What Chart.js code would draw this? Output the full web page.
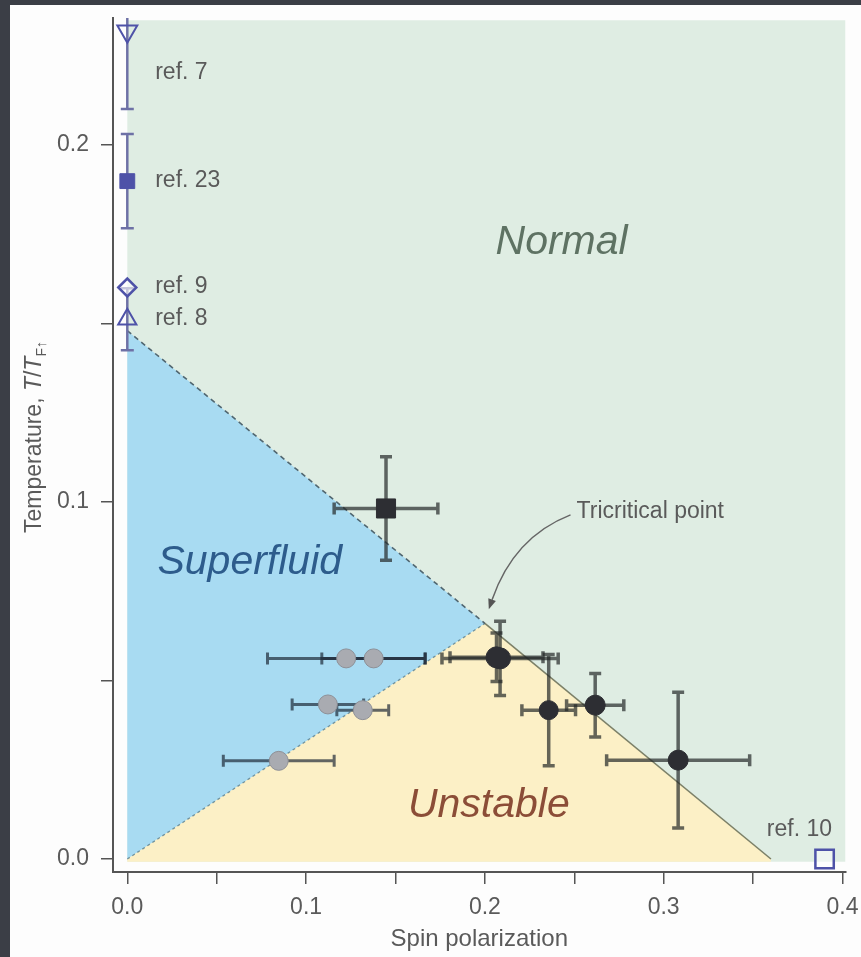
<!DOCTYPE html>
<html>
<head>
<meta charset="utf-8">
<title>Spin polarization phase diagram</title>
<script src="https://cdn.jsdelivr.net/npm/chart.js@4.4.1/dist/chart.umd.min.js"></script>
<style>
  html, body { margin: 0; padding: 0; background: #3b3e46; }
  canvas { display: block; }
</style>
</head>
<body>
<canvas id="phaseChart" width="861" height="957"></canvas>
<script>
// ---- data -------------------------------------------------------------
// earlier measurements (refs 7, 23, 9, 8 on the temperature axis, ref. 10 at T = 0)
const refLabels = ['ref. 7', 'ref. 23', 'ref. 9', 'ref. 8', 'ref. 10'];
const refP = [0, 0, 0, 0, 0.39];
const refT = [0.2319, 0.1899, 0.1601, 0.1512, 0];
const refTErr = [0.0218, 0.0132, 0, 0.0087, 0];

// superfluid points (grey)
const sfP = [0.1224, 0.1378, 0.1122, 0.1317, 0.0847];
const sfT = [0.0562, 0.0562, 0.0433, 0.0417, 0.0275];
const sfPErr = [0.044, 0.029, 0.020, 0.0145, 0.031];

// normal points (black, first one is the square)
const nP = [0.1447, 0.2085, 0.2065, 0.2357, 0.2617, 0.3081];
const nT = [0.0982, 0.0562, 0.0565, 0.0417, 0.0431, 0.0277];
const nPErr = [0.029, 0.0325, 0.026, 0.015, 0.016, 0.040];
const nTErr = [0.0145, 0.0104, 0.0068, 0.0156, 0.0089, 0.019];

// phase regions
const normalRegionP = [0, 0, 0.4017, 0.4017];
const normalRegionT = [-0.0008, 0.235, 0.235, -0.0008];
const superRegionP = [0, 0.2, 0];
const superRegionT = [0.148, 0.066, 0];
const unstableRegionP = [0, 0.2, 0.36, 0.36, 0];
const unstableRegionT = [0, 0.066, 0, -0.0008, -0.0008];

// phase boundaries meeting at the tricritical point
const sfNormalP = [0, 0.2];
const sfNormalT = [0.148, 0.066];
const sfUnstableP = [0, 0.2];
const sfUnstableT = [0, 0.066];
const unstableNormalP = [0.2, 0.36];
const unstableNormalT = [0.066, 0];

// axes
const xTickValues = [0, 0.05, 0.1, 0.15, 0.2, 0.25, 0.3, 0.35, 0.4];
const xTickLabels = ['0.0', '', '0.1', '', '0.2', '', '0.3', '', '0.4'];
const yTickValues = [0, 0.05, 0.1, 0.15, 0.2];
const yTickLabels = ['0.0', '', '0.1', '', '0.2'];

// ---- helpers ----------------------------------------------------------
const FONT = "'Liberation Sans', Arial, Helvetica, sans-serif";
const GREY = '#5a5a5a';

function toPoints(xs, ys) {
  return xs.map((x, i) => ({ x: x, y: ys[i] }));
}

function region(xs, ys, color, order) {
  return {
    type: 'line',
    data: toPoints(xs, ys),
    backgroundColor: color,
    borderColor: 'rgba(0,0,0,0)',
    borderWidth: 0,
    pointRadius: 0,
    fill: 'shape',
    tension: 0,
    order: order
  };
}

function boundary(xs, ys, color, width, dash) {
  return {
    type: 'line',
    data: toPoints(xs, ys),
    borderColor: color,
    borderWidth: width,
    borderDash: dash,
    pointRadius: 0,
    fill: false,
    tension: 0,
    order: 20
  };
}

// white page behind the plot
const panelPlugin = {
  id: 'panel',
  beforeDraw(chart) {
    const ctx = chart.ctx;
    ctx.save();
    ctx.fillStyle = '#3b3e46';
    ctx.fillRect(0, 0, chart.width, chart.height);
    ctx.fillStyle = '#fdfdfd';
    ctx.fillRect(10, 5, chart.width - 10, chart.height - 5);
    ctx.restore();
  }
};

// error bars are drawn just before the markers of their dataset
const errorBarPlugin = {
  id: 'errorBars',
  beforeDatasetDraw(chart, args) {
    const ds = chart.data.datasets[args.index];
    if (!ds.errorBars) return;
    const eb = ds.errorBars;
    const xs = chart.scales.x, ys = chart.scales.y;
    const area = chart.chartArea;
    const ctx = chart.ctx;
    ctx.save();
    ctx.beginPath();
    ctx.rect(area.left, area.top, area.right - area.left, area.bottom - area.top);
    ctx.clip();
    ctx.strokeStyle = eb.color;
    ctx.lineWidth = eb.width;
    const h = eb.cap / 2;
    ds.data.forEach((pt, i) => {
      const px = xs.getPixelForValue(pt.x);
      const py = ys.getPixelForValue(pt.y);
      const ex = eb.xErr ? eb.xErr[i] : 0;
      const ey = eb.yErr ? eb.yErr[i] : 0;
      ctx.beginPath();
      if (ex) {
        const l = xs.getPixelForValue(pt.x - ex);
        const r = xs.getPixelForValue(pt.x + ex);
        ctx.moveTo(l, py); ctx.lineTo(r, py);
        ctx.moveTo(l, py - h); ctx.lineTo(l, py + h);
        ctx.moveTo(r, py - h); ctx.lineTo(r, py + h);
      }
      if (ey) {
        const t = ys.getPixelForValue(pt.y + ey);
        const b = ys.getPixelForValue(pt.y - ey);
        ctx.moveTo(px, t); ctx.lineTo(px, b);
        ctx.moveTo(px - h, t); ctx.lineTo(px + h, t);
        ctx.moveTo(px - h, b); ctx.lineTo(px + h, b);
      }
      ctx.stroke();
    });
    ctx.restore();
  }
};

// region names, reference labels and the tricritical point callout
const notes = [
  { text: 'Normal', p: 0.2429, t: 0.1728, font: `italic 41px ${FONT}`, color: '#5e7263', align: 'center' },
  { text: 'Superfluid', p: 0.0685, t: 0.0829, font: `italic 41px ${FONT}`, color: '#2d5c8c', align: 'center' },
  { text: 'Unstable', p: 0.2022, t: 0.0151, font: `italic 41px ${FONT}`, color: '#8b4d37', align: 'center' },
  { text: 'Tricritical point', p: 0.2513, t: 0.0972, font: `23px ${FONT}`, color: GREY, align: 'left' },
  { text: refLabels[0], p: 0.0156, t: 0.2204, font: `23px ${FONT}`, color: GREY, align: 'left' },
  { text: refLabels[1], p: 0.0156, t: 0.1899, font: `23px ${FONT}`, color: GREY, align: 'left' },
  { text: refLabels[2], p: 0.0156, t: 0.1602, font: `23px ${FONT}`, color: GREY, align: 'left' },
  { text: refLabels[3], p: 0.0156, t: 0.1515, font: `23px ${FONT}`, color: GREY, align: 'left' },
  { text: refLabels[4], p: 0.3577, t: 0.0081, font: `23px ${FONT}`, color: GREY, align: 'left' }
];
const arrow = { from: [0.2479, 0.0964], ctrl: [0.2162, 0.0902], to: [0.2022, 0.0700] };

const notesPlugin = {
  id: 'notes',
  afterDatasetsDraw(chart) {
    const ctx = chart.ctx;
    const xs = chart.scales.x, ys = chart.scales.y;
    ctx.save();
    ctx.textBaseline = 'middle';
    notes.forEach(n => {
      ctx.font = n.font;
      ctx.fillStyle = n.color;
      ctx.textAlign = n.align;
      ctx.fillText(n.text, xs.getPixelForValue(n.p), ys.getPixelForValue(n.t));
    });

    // curved arrow to the tricritical point
    const fx = xs.getPixelForValue(arrow.from[0]), fy = ys.getPixelForValue(arrow.from[1]);
    const cx = xs.getPixelForValue(arrow.ctrl[0]), cy = ys.getPixelForValue(arrow.ctrl[1]);
    const tx = xs.getPixelForValue(arrow.to[0]), ty = ys.getPixelForValue(arrow.to[1]);
    const ang = Math.atan2(ty - cy, tx - cx);
    const len = 10, half = 4;
    const bx = tx - Math.cos(ang) * len, by = ty - Math.sin(ang) * len;
    ctx.strokeStyle = '#666';
    ctx.lineWidth = 1.5;
    ctx.beginPath();
    ctx.moveTo(fx, fy);
    ctx.quadraticCurveTo(cx, cy, bx, by);
    ctx.stroke();
    ctx.fillStyle = '#555';
    ctx.beginPath();
    ctx.moveTo(tx, ty);
    ctx.lineTo(bx + Math.sin(ang) * half, by - Math.cos(ang) * half);
    ctx.lineTo(bx - Math.sin(ang) * half, by + Math.cos(ang) * half);
    ctx.closePath();
    ctx.fill();

    // y axis title with italic T and subscript
    const parts = [
      { s: 'Temperature, ', f: `23px ${FONT}`, dy: 0 },
      { s: 'T', f: `italic 23px ${FONT}`, dy: 0 },
      { s: '/', f: `23px ${FONT}`, dy: 0 },
      { s: 'T', f: `italic 23px ${FONT}`, dy: 0 },
      { s: 'F\u2191', f: `14px ${FONT}`, dy: 5 }
    ];
    let total = 0;
    parts.forEach(p => { ctx.font = p.f; p.w = ctx.measureText(p.s).width; total += p.w; });
    ctx.translate(41, 437);
    ctx.rotate(-Math.PI / 2);
    ctx.textAlign = 'left';
    ctx.textBaseline = 'alphabetic';
    ctx.fillStyle = GREY;
    let x = -total / 2;
    parts.forEach(p => {
      ctx.font = p.f;
      ctx.fillText(p.s, x, p.dy);
      x += p.w;
    });
    ctx.restore();
  }
};

// ---- chart ------------------------------------------------------------
const ctx = document.getElementById('phaseChart').getContext('2d');

const chart = new Chart(ctx, {
  type: 'scatter',
  data: {
    datasets: [
      region(normalRegionP, normalRegionT, '#dfede3', 30),
      region(superRegionP, superRegionT, '#a8dbf2', 29),
      region(unstableRegionP, unstableRegionT, '#fcf0c6', 28),
      boundary(sfNormalP, sfNormalT, 'rgba(60,80,90,0.85)', 1.6, [5, 4]),
      boundary(sfUnstableP, sfUnstableT, 'rgba(70,110,130,0.7)', 1.3, [3, 3]),
      boundary(unstableNormalP, unstableNormalT, '#7c8068', 1.6, []),
      {
        label: 'Superfluid',
        data: toPoints(sfP, sfT),
        pointStyle: 'circle',
        pointRadius: 9.5,
        backgroundColor: '#a9abb1',
        borderColor: '#8e9097',
        borderWidth: 1,
        errorBars: { xErr: sfPErr, color: 'rgba(25,35,50,0.68)', width: 3, cap: 12 },
        order: 3
      },
      {
        label: 'Normal',
        data: toPoints(nP, nT),
        pointStyle: ['rect', 'circle', 'circle', 'circle', 'circle', 'circle'],
        pointRadius: [13.5, 10.5, 10.5, 9.5, 10, 10],
        backgroundColor: '#2d2e33',
        borderColor: '#2d2e33',
        borderWidth: 1,
        errorBars: { xErr: nPErr, yErr: nTErr, color: 'rgba(35,40,40,0.7)', width: 3.5, cap: 12 },
        order: 2
      },
      {
        label: 'References',
        data: toPoints(refP, refT),
        pointStyle: ['triangle', 'rect', 'rectRot', 'triangle', 'rect'],
        rotation: [180, 0, 0, 0, 0],
        pointRadius: [11.5, 10.5, 9, 10.5, 13],
        backgroundColor: ['rgba(0,0,0,0)', '#4e52a8', 'rgba(255,255,255,0.6)', 'rgba(0,0,0,0)', 'rgba(255,255,255,0.5)'],
        borderColor: '#4e52a8',
        borderWidth: [2, 1, 2.5, 2, 2.5],
        clip: false,
        errorBars: { yErr: refTErr, color: '#6e71a6', width: 2.5, cap: 13 },
        order: 1
      }
    ]
  },
  options: {
    responsive: false,
    animation: false,
    events: [],
    layout: { padding: { left: 10, top: 18, right: 13, bottom: 0 } },
    scales: {
      x: {
        type: 'linear',
        min: -0.008,
        max: 0.4017,
        afterBuildTicks: s => { s.ticks = xTickValues.map(v => ({ value: v })); },
        afterFit: s => { s.height = 85; s.paddingLeft = 0; s.paddingRight = 0; },
        ticks: {
          autoSkip: false,
          maxRotation: 0,
          padding: 10,
          color: GREY,
          font: { family: FONT, size: 23 },
          callback: (v, i) => xTickLabels[i]
        },
        grid: { drawOnChartArea: false, drawTicks: true, tickLength: 12, color: '#555', lineWidth: 1.5 },
        border: { display: true, color: '#555', width: 2 },
        title: {
          display: true,
          text: 'Spin polarization',
          color: GREY,
          font: { family: FONT, size: 24 },
          padding: { top: 0, bottom: 3 }
        }
      },
      y: {
        type: 'linear',
        min: -0.00364,
        max: 0.2356,
        afterBuildTicks: s => { s.ticks = yTickValues.map(v => ({ value: v })); },
        afterFit: s => { s.width = 103; s.paddingTop = 0; s.paddingBottom = 0; },
        ticks: {
          autoSkip: false,
          padding: 12,
          color: GREY,
          font: { family: FONT, size: 23 },
          callback: (v, i) => yTickLabels[i]
        },
        grid: { drawOnChartArea: false, drawTicks: true, tickLength: 12, color: '#555', lineWidth: 1.5 },
        border: { display: true, color: '#555', width: 2 },
        title: { display: false }
      }
    },
    plugins: {
      legend: { display: false },
      tooltip: { enabled: false }
    }
  },
  plugins: [panelPlugin, errorBarPlugin, notesPlugin]
});
</script>
</body>
</html>
